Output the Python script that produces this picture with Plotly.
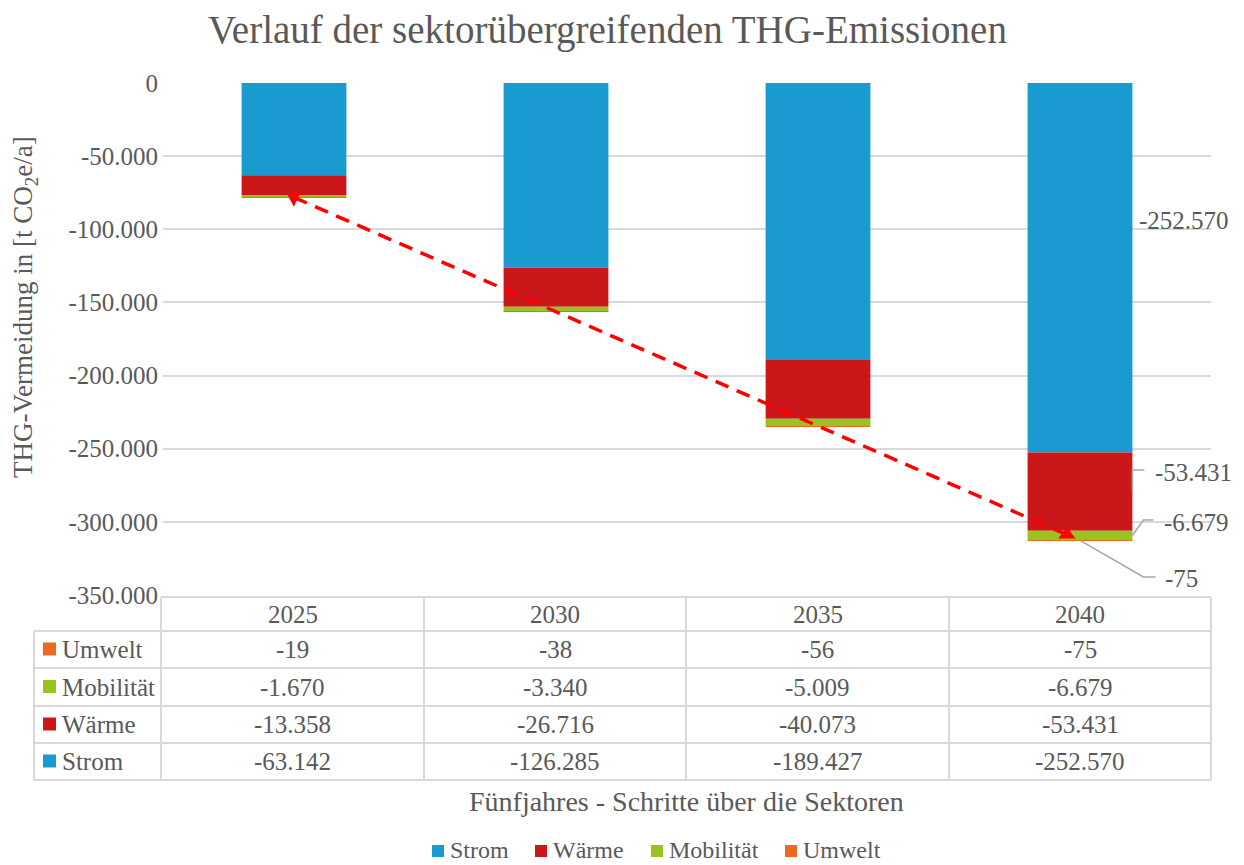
import plotly.graph_objects as go

# ---------------- data ----------------
years = ["2025", "2030", "2035", "2040"]
series_names = ["Strom", "Wärme", "Mobilität", "Umwelt"]
strom = [-63142, -126285, -189427, -252570]
waerme = [-13358, -26716, -40073, -53431]
mobilitaet = [-1670, -3340, -5009, -6679]
umwelt = [-19, -38, -56, -75]
y_ticks = [0, -50000, -100000, -150000, -200000, -250000, -300000, -350000]

series_values = [strom, waerme, mobilitaet, umwelt]
colors = ["#1a9bd0", "#cc171a", "#9bc31f", "#ec6a1f"]

FONT = "Liberation Serif"
GRAY = "#595959"
LINE = "#d9d9d9"
OFF = 8                      # browser body margin
W, H = 1244 - OFF, 865 - OFF
# plot area in page pixels
L, R, T, B = 163, 1211, 83, 595
YMIN, YMAX = -350000, 0


def de(v):
    return f"{v:,}".replace(",", ".")


def px(x):
    return (x - L) / (R - L)


def py(y):
    return (B - y) / (B - T)


def xpix(i):
    return L + (i + 0.5) * (R - L) / len(years)


def ypix(v):
    return T + (YMAX - v) / (YMAX - YMIN) * (B - T)


def ann(text, x, y, size=25, xanchor="center", **kw):
    return dict(text=text, x=px(x), y=py(y), xref="paper", yref="paper",
                xanchor=xanchor, yanchor="middle", showarrow=False,
                font=dict(size=size, color=GRAY, family=FONT), **kw)


xs = list(range(len(years)))
fig = go.Figure()
for name, vals, col in zip(series_names, series_values, colors):
    fig.add_trace(go.Bar(x=xs, y=vals, name=name, marker_color=col,
                         marker_line_width=0, width=0.4, showlegend=False))

totals = [sum(s[i] for s in series_values) for i in range(len(years))]
fig.add_trace(go.Scatter(
    x=[xs[0], xs[-1] - 0.05], y=[totals[0], totals[-1] + 4000],
    mode="lines+markers",
    line=dict(color="#ff0000", width=3.5, dash="14px,9px"),
    marker=dict(symbol="triangle-up", size=15, color="#ff0000",
                angle=[-66, 0]),
    showlegend=False, hoverinfo="skip"))

annotations = []
shapes = []

annotations.append(ann("Verlauf der sektorübergreifenden THG-Emissionen", 607, 30, size=39))
annotations.append(ann("THG-Vermeidung in [t CO<sub>2</sub>e/a]", 25, 307, size=27,
                       textangle=-90))
annotations.append(ann("Fünfjahres - Schritte über die Sektoren", 686, 801, size=28))

# ---------- data table ----------
col_edges = [161, 424, 686, 949, 1211]
row_edges = [597, 631, 668, 706, 743, 780]
label_left = 34


def hline(x0, x1, y):
    shapes.append(dict(type="line", xref="paper", yref="paper",
                       x0=px(x0), x1=px(x1), y0=py(y), y1=py(y),
                       line=dict(color=LINE, width=2)))


def vline(x, y0, y1):
    shapes.append(dict(type="line", xref="paper", yref="paper",
                       x0=px(x), x1=px(x), y0=py(y0), y1=py(y1),
                       line=dict(color=LINE, width=2)))


hline(col_edges[0], col_edges[-1], row_edges[0])
for y in row_edges[1:]:
    hline(label_left, col_edges[-1], y)
vline(label_left, row_edges[1], row_edges[-1])
for x in col_edges:
    vline(x, row_edges[0], row_edges[-1])

for j, yr in enumerate(years):
    cx = (col_edges[j] + col_edges[j + 1]) / 2
    cy = (row_edges[0] + row_edges[1]) / 2
    annotations.append(ann(yr, cx, cy))

order = list(range(len(series_names)))[::-1]
for r, si in enumerate(order):
    cy = (row_edges[r + 1] + row_edges[r + 2]) / 2
    shapes.append(dict(type="rect", xref="paper", yref="paper",
                       x0=px(43), x1=px(56), y0=py(cy + 6), y1=py(cy - 7),
                       fillcolor=colors[si], line=dict(width=0)))
    annotations.append(ann(series_names[si], 60, cy, xanchor="left"))
    for j in range(len(years)):
        cx = (col_edges[j] + col_edges[j + 1]) / 2
        annotations.append(ann(de(series_values[si][j]), cx, cy))

# ---------- legend (custom, bottom) ----------
leg_x = [432, 535, 651, 785]
leg_y = 850
for i, name in enumerate(series_names):
    shapes.append(dict(type="rect", xref="paper", yref="paper",
                       x0=px(leg_x[i]), x1=px(leg_x[i] + 12), y0=py(leg_y + 7),
                       y1=py(leg_y - 5), fillcolor=colors[i], line=dict(width=0)))
    annotations.append(ann(name, leg_x[i] + 16, leg_y, size=24, xanchor="left"))

# ---------- data labels for last year ----------
last = len(years) - 1
bar_right = xpix(last) + 0.2 * (R - L) / len(years)
bounds = []
acc = 0
for s in series_values:
    top = acc
    acc += s[last]
    bounds.append((top, acc))
mid = [ypix((a + b) / 2) for a, b in bounds]

label_pos = [(1137, 220), (1153, 472), (1162, 522), (1163, 578)]
for i, name in enumerate(series_names):
    lx, ly = label_pos[i]
    annotations.append(ann(de(series_values[i][last]), lx, ly, xanchor="left"))

LEADER = "#a6a6a6"


def path(points):
    d = "M " + " L ".join(f"{px(x)},{py(y)}" for x, y in points)
    shapes.append(dict(type="path", xref="paper", yref="paper", path=d,
                       line=dict(color=LEADER, width=1.5)))


path([(bar_right, mid[1]), (bar_right, 470), (bar_right + 12, 470)])
path([(bar_right, mid[2]), (bar_right + 11, 520), (bar_right + 21, 520)])
path([(xpix(last), mid[3]), (bar_right + 11, 577), (bar_right + 23, 577)])

fig.update_layout(
    width=W, height=H,
    margin=dict(l=L - OFF, r=W - (R - OFF), t=T - OFF, b=H - (B - OFF)),
    paper_bgcolor="white", plot_bgcolor="white",
    barmode="relative", bargap=0.6,
    showlegend=False,
    font=dict(family=FONT, color=GRAY, size=25),
    xaxis=dict(range=[-0.5, len(years) - 0.5], showticklabels=False, showgrid=False,
               zeroline=False, showline=False, fixedrange=True),
    yaxis=dict(range=[YMIN, YMAX], tickvals=y_ticks, ticktext=[de(v) for v in y_ticks],
               showgrid=True, gridcolor=LINE, gridwidth=1.5, zeroline=False,
               showline=False, ticks="", ticklabelstandoff=4,
               tickfont=dict(size=25, color=GRAY, family=FONT)),
    shapes=shapes, annotations=annotations,
)

fig.write_html("out.html")
